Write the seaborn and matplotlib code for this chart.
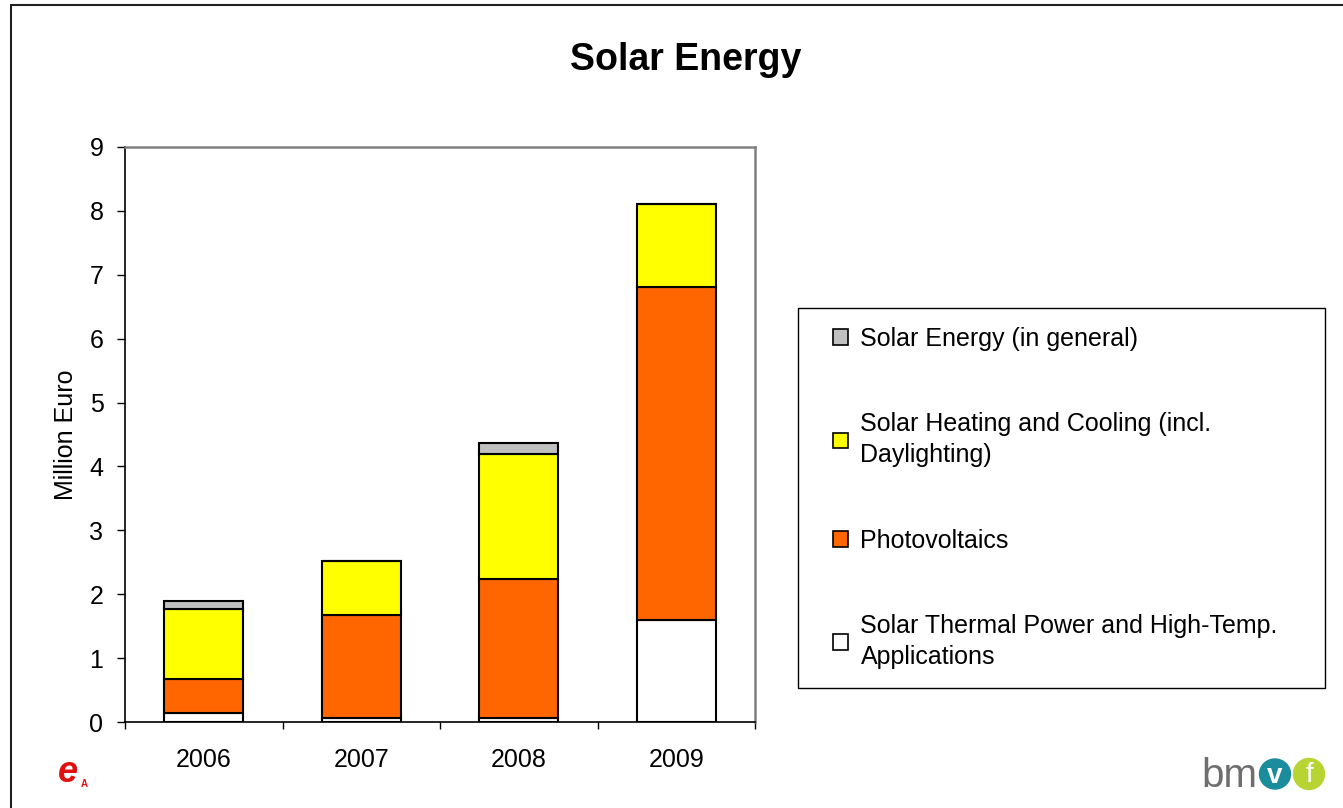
import seaborn as sns
import matplotlib.pyplot as plt
from matplotlib.patches import Patch, Rectangle, Ellipse
from matplotlib.lines import Line2D

# values (Million Euro)
years = ["2006", "2007", "2008", "2009"]
thermal = [0.14, 0.07, 0.07, 1.60]
pv = [0.53, 1.60, 2.17, 5.21]
heating = [1.10, 0.85, 1.96, 1.30]
general = [0.13, 0.00, 0.16, 0.00]

series = [("Solar Thermal Power and High-Temp.\nApplications", thermal, "#FFFFFF"),
          ("Photovoltaics", pv, "#FF6600"),
          ("Solar Heating and Cooling (incl.\nDaylighting)", heating, "#FFFF00"),
          ("Solar Energy (in general)", general, "#C0C0C0")]

sns.set_style("white")
plt.rcParams['font.family'] = ['Liberation Sans', 'DejaVu Sans']
for k in ["text.color", "axes.labelcolor", "xtick.color", "ytick.color"]:
    plt.rcParams[k] = "black"

W, H = 1343, 808
fig = plt.figure(figsize=(W / 100, H / 100), dpi=100)
ax = fig.add_axes([125 / W, 1 - 722 / H, 630 / W, 575 / H])

bottom = [0.0] * len(years)
for name, vals, col in series:
    sns.barplot(x=years, y=vals, bottom=bottom, color=col, edgecolor="black",
                linewidth=1.5, width=0.5, saturation=1, ax=ax)
    bottom = [b + v for b, v in zip(bottom, vals)]

ax.set_ylim(0, 9)
ax.set_xlim(-0.5, 3.5)
ax.set_yticks(range(0, 10))
ax.set_xticks([-0.5, 0.5, 1.5, 2.5, 3.5], minor=True)
ax.tick_params(axis="x", which="major", length=0, pad=19, labelsize=18)
ax.tick_params(axis="x", which="minor", length=5, width=1, direction="out",
               bottom=True, color="black")
ax.tick_params(axis="y", length=5.5, width=1, direction="out", left=True,
               pad=10, labelsize=18, color="black")
ax.set_xlabel("")
ax.set_ylabel("Million Euro", fontsize=18, labelpad=8)

for s in ["left", "bottom"]:
    ax.spines[s].set_color("black")
    ax.spines[s].set_linewidth(1.2)
for s in ["top", "right"]:
    ax.spines[s].set_color("#808080")
    ax.spines[s].set_linewidth(1.8)

fig.text(686 / W, 1 - 60 / H, "Solar Energy", fontsize=27, fontweight="bold",
         ha="center", va="center")

# legend
handles = [Patch(facecolor=c, edgecolor="black", linewidth=1.2)
           for _, _, c in series][::-1]
labels = [n for n, _, _ in series][::-1]
leg = fig.legend(handles, labels, loc="upper left",
                 bbox_to_anchor=(833 / W, 1 - 327 / H), frameon=False,
                 borderpad=0, borderaxespad=0, handlelength=0.6,
                 handleheight=0.6, handletextpad=0.5, labelspacing=2.45,
                 fontsize=18)
for t in leg.get_texts():
    t.set_linespacing(1.38)
fig.add_artist(Rectangle((798 / W, 1 - 688 / H), 527 / W, 380 / H,
                         transform=fig.transFigure, fill=False,
                         edgecolor="black", linewidth=1))

# outer frame of the slide
fig.add_artist(Line2D([11 / W, 11 / W], [0, 1 - 5 / H], transform=fig.transFigure,
                      color="#202020", linewidth=1.5))
fig.add_artist(Line2D([11 / W, 1], [1 - 5 / H, 1 - 5 / H], transform=fig.transFigure,
                      color="#202020", linewidth=1.5))

# logos
fig.text(68 / W, 1 - 772 / H, "e", color="#DD1111", fontsize=26,
         fontweight="bold", fontstyle="italic", ha="center", va="center")
fig.text(84 / W, 1 - 784 / H, "A", color="#DD1111", fontsize=7,
         fontweight="bold", ha="center", va="center")
fig.text(1229 / W, 1 - 776 / H, "bm", color="#6E6E6E", fontsize=29,
         ha="center", va="center")
fig.add_artist(Ellipse((1275 / W, 1 - 774 / H), 31 / W, 30 / H,
                       transform=fig.transFigure, color="#1A8C9C"))
fig.add_artist(Ellipse((1309 / W, 1 - 774 / H), 31 / W, 31 / H,
                       transform=fig.transFigure, color="#B8D432"))
fig.text(1275 / W, 1 - 776 / H, "v", color="white", fontsize=20,
         fontweight="bold", ha="center", va="center")
fig.text(1309 / W, 1 - 775 / H, "f", color="white", fontsize=20,
         ha="center", va="center")

fig.savefig("out.png", dpi=100)
